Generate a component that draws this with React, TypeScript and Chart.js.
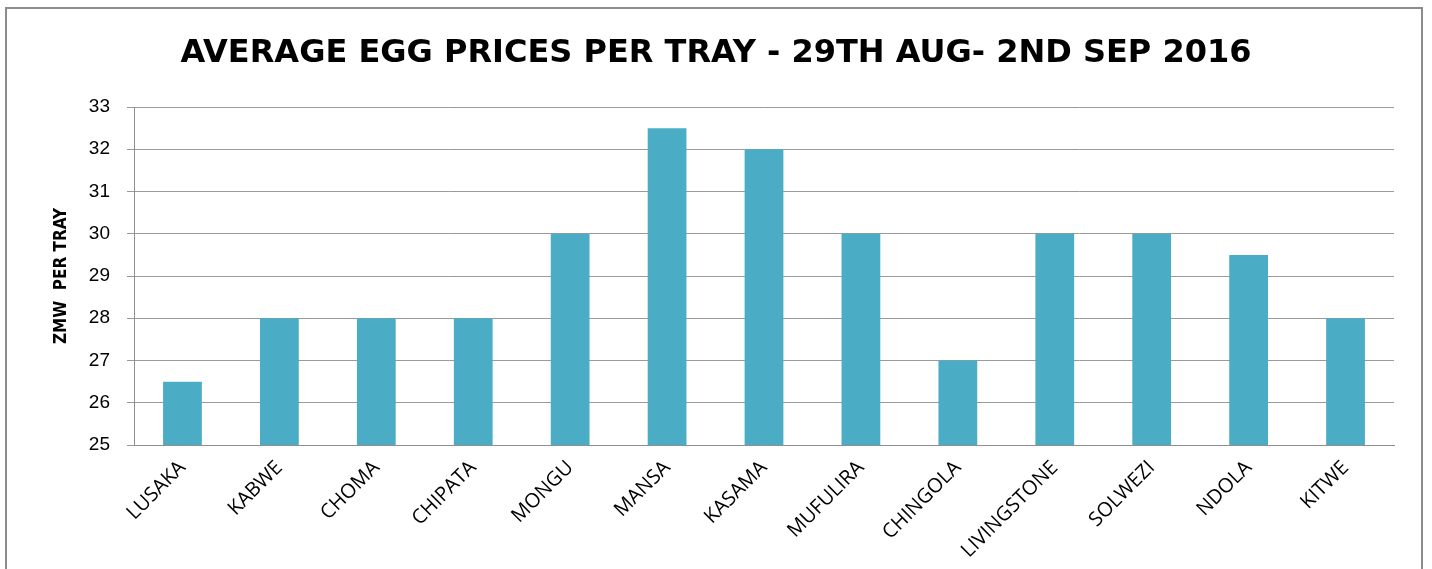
import React, { useEffect, useRef } from "react";
import { Chart, registerables } from "chart.js";

Chart.register(...registerables);

const categories = [
  "LUSAKA", "KABWE", "CHOMA", "CHIPATA", "MONGU", "MANSA", "KASAMA",
  "MUFULIRA", "CHINGOLA", "LIVINGSTONE", "SOLWEZI", "NDOLA", "KITWE",
];
const prices = [26.5, 28, 28, 28, 30, 32.5, 32, 30, 27, 30, 30, 29.5, 28];
const yMin = 25;
const yMax = 33;
const yStep = 1;
const titleText = "AVERAGE EGG PRICES PER TRAY - 29TH AUG- 2ND SEP 2016";
const yTitle = "ZMW  PER TRAY";

export default function App() {
  const ref = useRef<HTMLCanvasElement>(null);
  useEffect(() => {
    if (!ref.current) return;
    const chart = new Chart(ref.current, {
      type: "bar",
      data: {
        labels: categories,
        datasets: [
          {
            data: prices,
            backgroundColor: "#4BACC6",
            borderWidth: 0,
            barPercentage: 0.4,
            categoryPercentage: 1,
          },
        ],
      },
      options: {
        animation: false,
        responsive: false,
        layout: { padding: { left: 38, right: 38, top: 0, bottom: 0 } },
        plugins: {
          legend: { display: false },
          tooltip: { enabled: false },
          title: {
            display: true,
            text: titleText,
            color: "#000",
            font: { family: "'DejaVu Sans'", size: 32, weight: "bold", lineHeight: 1.2 },
            padding: { top: 34, bottom: 34.6 },
          },
        },
        scales: {
          x: {
            grid: { display: false, drawTicks: false },
            border: { display: true, color: "#8f8f8f", width: 1 },
            ticks: {
              color: "#000",
              font: { family: "'Open Sans'", size: 20 },
              minRotation: 45,
              maxRotation: 45,
              autoSkip: false,
              padding: 11,
            },
            afterFit: (s: any) => {
              s.height = 124;
            },
          },
          y: {
            min: yMin,
            max: yMax,
            grid: { color: "#9a9a9a", lineWidth: 1, drawTicks: true, tickLength: 7 },
            border: { display: true, color: "#8f8f8f", width: 1 },
            ticks: {
              stepSize: yStep,
              color: "#000",
              font: { family: "'Liberation Sans'", size: 19 },
              padding: 17,
            },
            title: {
              display: true,
              text: yTitle,
              color: "#000",
              font: { family: "'Liberation Sans Narrow', 'DejaVu Sans Condensed'", size: 17, weight: "bold", lineHeight: 1.2 },
              padding: { top: 13.8, bottom: 0 },
            },
            afterFit: (s: any) => {
              s.width = 96;
            },
          },
        },
      },
    });
    return () => chart.destroy();
  }, []);

  return (
    <div style={{ position: "absolute", left: 0, top: 0, width: 1432, height: 569, overflow: "hidden", background: "#fff" }}>
      <div
        style={{
          position: "absolute",
          left: 5,
          top: 7,
          width: 1418,
          height: 700,
          border: "2px solid #8c8c8c",
          boxSizing: "border-box",
        }}
      />
      <canvas ref={ref} width={1432} height={569} style={{ position: "absolute", left: 0, top: 0, width: 1432, height: 569 }} />
    </div>
  );
}
